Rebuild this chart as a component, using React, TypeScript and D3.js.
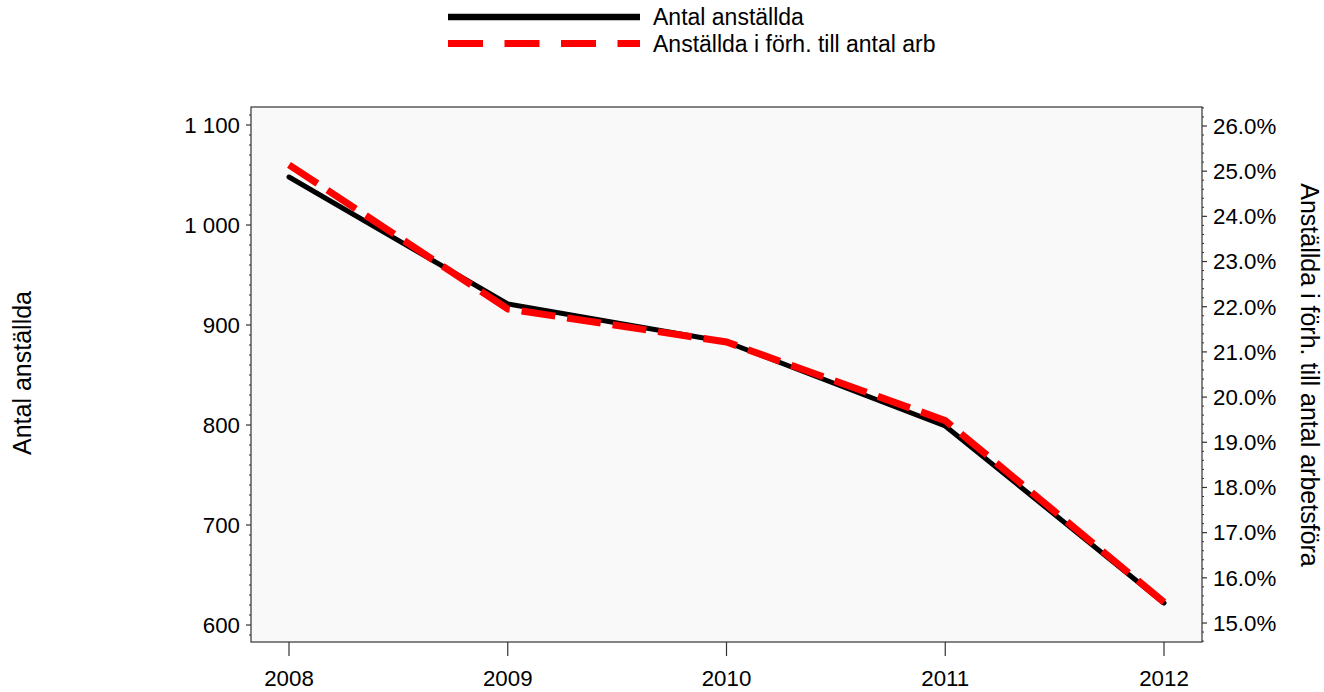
import React from "react";
import * as d3 from "d3";

const years = [2008, 2009, 2010, 2011, 2012];
const employees = [1048, 921, 883, 799, 622];
const shareOfWorkforce = [25.14, 21.95, 21.22, 19.48, 15.46];
const leftTicks = [600, 700, 800, 900, 1000, 1100];
const rightTicks = [15, 16, 17, 18, 19, 20, 21, 22, 23, 24, 25, 26];
const seriesNames = ["Antal anställda", "Anställda i förh. till antal arb"];
const leftTitle = "Antal anställda";
const rightTitle = "Anställda i förh. till antal arbetsföra";

const W = 1324;
const H = 692;
const plot = { left: 251, right: 1202, top: 107, bottom: 642 };
const FONT = "Liberation Sans, Arial, sans-serif";
const FS = 22.3;
const FS_LEG = 23;
const FS_TITLE = 25;

export default function App() {
  const x = d3
    .scalePoint<number>()
    .domain(years)
    .range([289, 1164]);
  const yL = d3.scaleLinear().domain([583, 1118]).range([plot.bottom, plot.top]);
  const yR = d3.scaleLinear().domain([14.58, 26.42]).range([plot.bottom, plot.top]);

  const lineL = d3
    .line<number>()
    .x((_, i) => x(years[i]) as number)
    .y((d) => yL(d));
  const lineR = d3
    .line<number>()
    .x((_, i) => x(years[i]) as number)
    .y((d) => yR(d));

  const fmtL = (v: number) => d3.format(",")(v).replace(/,/g, " ");
  const fmtR = (v: number) => v.toFixed(1) + "%";

  const minorL = d3.range(590, 1118, 10).filter((v) => v % 100 !== 0);
  const minorR = d3
    .range(14.6, 26.42, 0.2)
    .map((v) => Math.round(v * 10) / 10)
    .filter((v) => Math.abs(v - Math.round(v)) > 0.01);

  const axisColor = "#333";

  return (
    <svg width={W} height={H} style={{ position: "absolute", left: 0, top: 0 }} fontFamily={FONT}>
      <rect x={0} y={0} width={W} height={H} fill="#fff" />
      {/* legend */}
      <line x1={448} x2={640} y1={17} y2={17} stroke="#000" strokeWidth={6.5} />
      <text x={653} y={25} fontSize={FS_LEG} fill="#000">{seriesNames[0]}</text>
      <line x1={448} x2={640} y1={43.5} y2={43.5} stroke="#ff0000" strokeWidth={7} strokeDasharray="35,21.5" />
      <text x={653} y={52} fontSize={FS_LEG} fill="#000">{seriesNames[1]}</text>

      {/* plot background */}
      <rect
        x={plot.left}
        y={plot.top}
        width={plot.right - plot.left}
        height={plot.bottom - plot.top}
        fill="#f9f9f9"
        stroke={axisColor}
        strokeWidth={1.2}
      />

      {/* left axis */}
      {minorL.map((v) => (
        <line key={"ml" + v} x1={plot.left - 2} x2={plot.left} y1={yL(v)} y2={yL(v)} stroke={axisColor} strokeWidth={1} />
      ))}
      {leftTicks.map((v) => (
        <g key={"l" + v}>
          <line x1={plot.left - 5} x2={plot.left} y1={yL(v)} y2={yL(v)} stroke={axisColor} strokeWidth={1.2} />
          <text x={240} y={yL(v)} dy="0.35em" textAnchor="end" fontSize={FS} fill="#000">
            {fmtL(v)}
          </text>
        </g>
      ))}

      {/* right axis */}
      {minorR.map((v) => (
        <line key={"mr" + v} x1={plot.right} x2={plot.right + 2} y1={yR(v)} y2={yR(v)} stroke={axisColor} strokeWidth={1} />
      ))}
      {rightTicks.map((v) => (
        <g key={"r" + v}>
          <line x1={plot.right} x2={plot.right + 5} y1={yR(v)} y2={yR(v)} stroke={axisColor} strokeWidth={1.2} />
          <text x={1213} y={yR(v)} dy="0.35em" textAnchor="start" fontSize={FS} fill="#000">
            {fmtR(v)}
          </text>
        </g>
      ))}

      {/* x axis */}
      {years.map((yr) => (
        <g key={"x" + yr}>
          <line x1={x(yr)} x2={x(yr)} y1={plot.bottom} y2={plot.bottom + 14} stroke={axisColor} strokeWidth={1.2} />
          <text x={x(yr)} y={678} dy="0.35em" textAnchor="middle" fontSize={FS} fill="#000">
            {yr}
          </text>
        </g>
      ))}

      {/* titles */}
      <text
        transform={`translate(31,373) rotate(-90)`}
        textAnchor="middle"
        fontSize={FS_TITLE}
        fill="#000"
      >
        {leftTitle}
      </text>
      <text
        transform={`translate(1301,375) rotate(90)`}
        textAnchor="middle"
        fontSize={FS_TITLE}
        fill="#000"
      >
        {rightTitle}
      </text>

      {/* series */}
      <path
        d={lineL(employees) || ""}
        fill="none"
        stroke="#000"
        strokeWidth={5}
        strokeLinejoin="round"
        strokeLinecap="round"
      />
      <path
        d={lineR(shareOfWorkforce) || ""}
        fill="none"
        stroke="#ff0000"
        strokeWidth={7}
        strokeDasharray="34,12"
      />
    </svg>
  );
}
